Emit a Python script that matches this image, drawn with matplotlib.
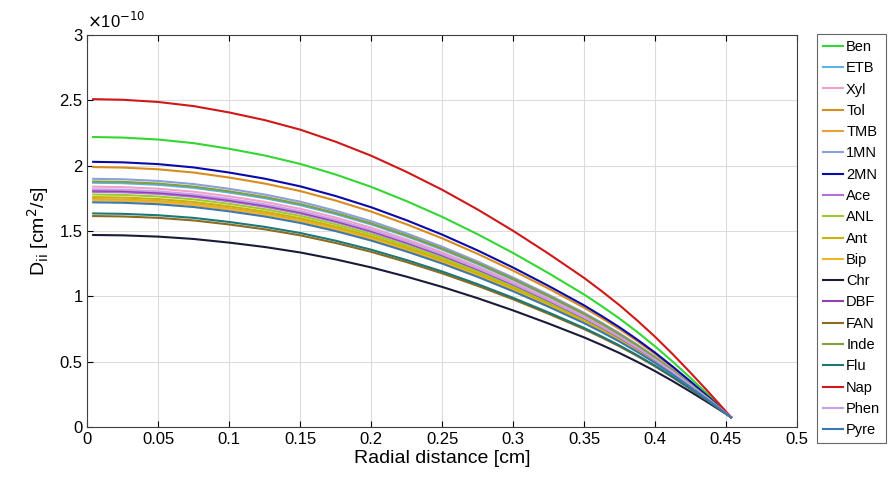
import matplotlib
matplotlib.use("Agg")
import matplotlib.pyplot as plt
import numpy as np
from matplotlib.ticker import FuncFormatter

plt.rcParams['font.family'] = ['Liberation Sans', 'DejaVu Sans']

# Radial positions [cm] and the normalised profile
radial = np.array([0.004, 0.025, 0.05, 0.075, 0.1, 0.125, 0.15, 0.175, 0.2, 0.225,
                   0.25, 0.275, 0.3, 0.325, 0.35, 0.3625, 0.375, 0.3875, 0.4, 0.4125,
                   0.425, 0.4375, 0.45, 0.4535])
profile = np.array([1.000, 0.998, 0.991, 0.978, 0.958, 0.934, 0.904, 0.866, 0.822, 0.771,
                    0.715, 0.653, 0.586, 0.514, 0.438, 0.396, 0.352, 0.304, 0.253, 0.198,
                    0.140, 0.080, 0.018, 0.0])

# Species, centre-line diffusivity (x1e-10 cm^2/s) and colours
species = ['Ben', 'ETB', 'Xyl', 'Tol', 'TMB', '1MN', '2MN', 'Ace', 'ANL', 'Ant',
           'Bip', 'Chr', 'DBF', 'FAN', 'Inde', 'Flu', 'Nap', 'Phen', 'Pyre']
d_centre = [2.22, 1.87, 1.84, 1.99, 1.745, 1.90, 2.03, 1.80, 1.78, 1.76,
            1.735, 1.47, 1.81, 1.615, 1.88, 1.635, 2.51, 1.82, 1.72]
d_wall = 0.075
colors = ['#33d633', '#5ab4e6', '#f0a0c8', '#d98c1e', '#e6a23c', '#8c9fd8', '#0a0aa8',
          '#b06ee0', '#9ccc2c', '#c8b400', '#f0b428', '#1a1a3a', '#9040b0', '#8c6a1e',
          '#80a040', '#1e7878', '#d01818', '#c8a0e8', '#3c78b0']

fig = plt.figure(figsize=(8.89, 4.88), dpi=100)
ax = fig.add_axes([0.0984, 0.125, 0.798, 0.803])

for name, d0, c in zip(species, d_centre, colors):
    ax.plot(radial, d_wall + (d0 - d_wall) * profile, color=c, lw=1.5, label=name)

ax.set_xlim(0, 0.5)
ax.set_ylim(0, 3)
ax.set_xticks(np.arange(0, 0.501, 0.05))
ax.set_yticks(np.arange(0, 3.01, 0.5))
ax.xaxis.set_major_formatter(FuncFormatter(lambda v, p: '%g' % round(v, 3)))
ax.yaxis.set_major_formatter(FuncFormatter(lambda v, p: '%g' % round(v, 3)))
ax.tick_params(direction='in', labelsize=12, length=4, width=0.8, top=True, right=False)
ax.grid(True, color='#dcdcdc', lw=0.8)
ax.set_axisbelow(True)
for s in ax.spines.values():
    s.set_color('#404040')

ax.set_xlabel('Radial distance [cm]', fontsize=14, labelpad=2)
ax.set_ylabel(r'D$_{\rm ii}$ [cm$^2$/s]', fontsize=14, labelpad=6)
ax.text(0.0, 1.01, r'$\times$10$^{-10}$', transform=ax.transAxes, fontsize=12,
        ha='left', va='bottom')

leg = ax.legend(loc='upper left', bbox_to_anchor=(0.919, 0.93),
                bbox_transform=fig.transFigure, fontsize=10.5, frameon=True,
                fancybox=False, edgecolor='#404040', handlelength=1.4,
                handletextpad=0.2, labelspacing=0.5, borderpad=0.4,
                borderaxespad=0)
leg.get_frame().set_linewidth(0.8)

fig.savefig('out.png', dpi=100)
